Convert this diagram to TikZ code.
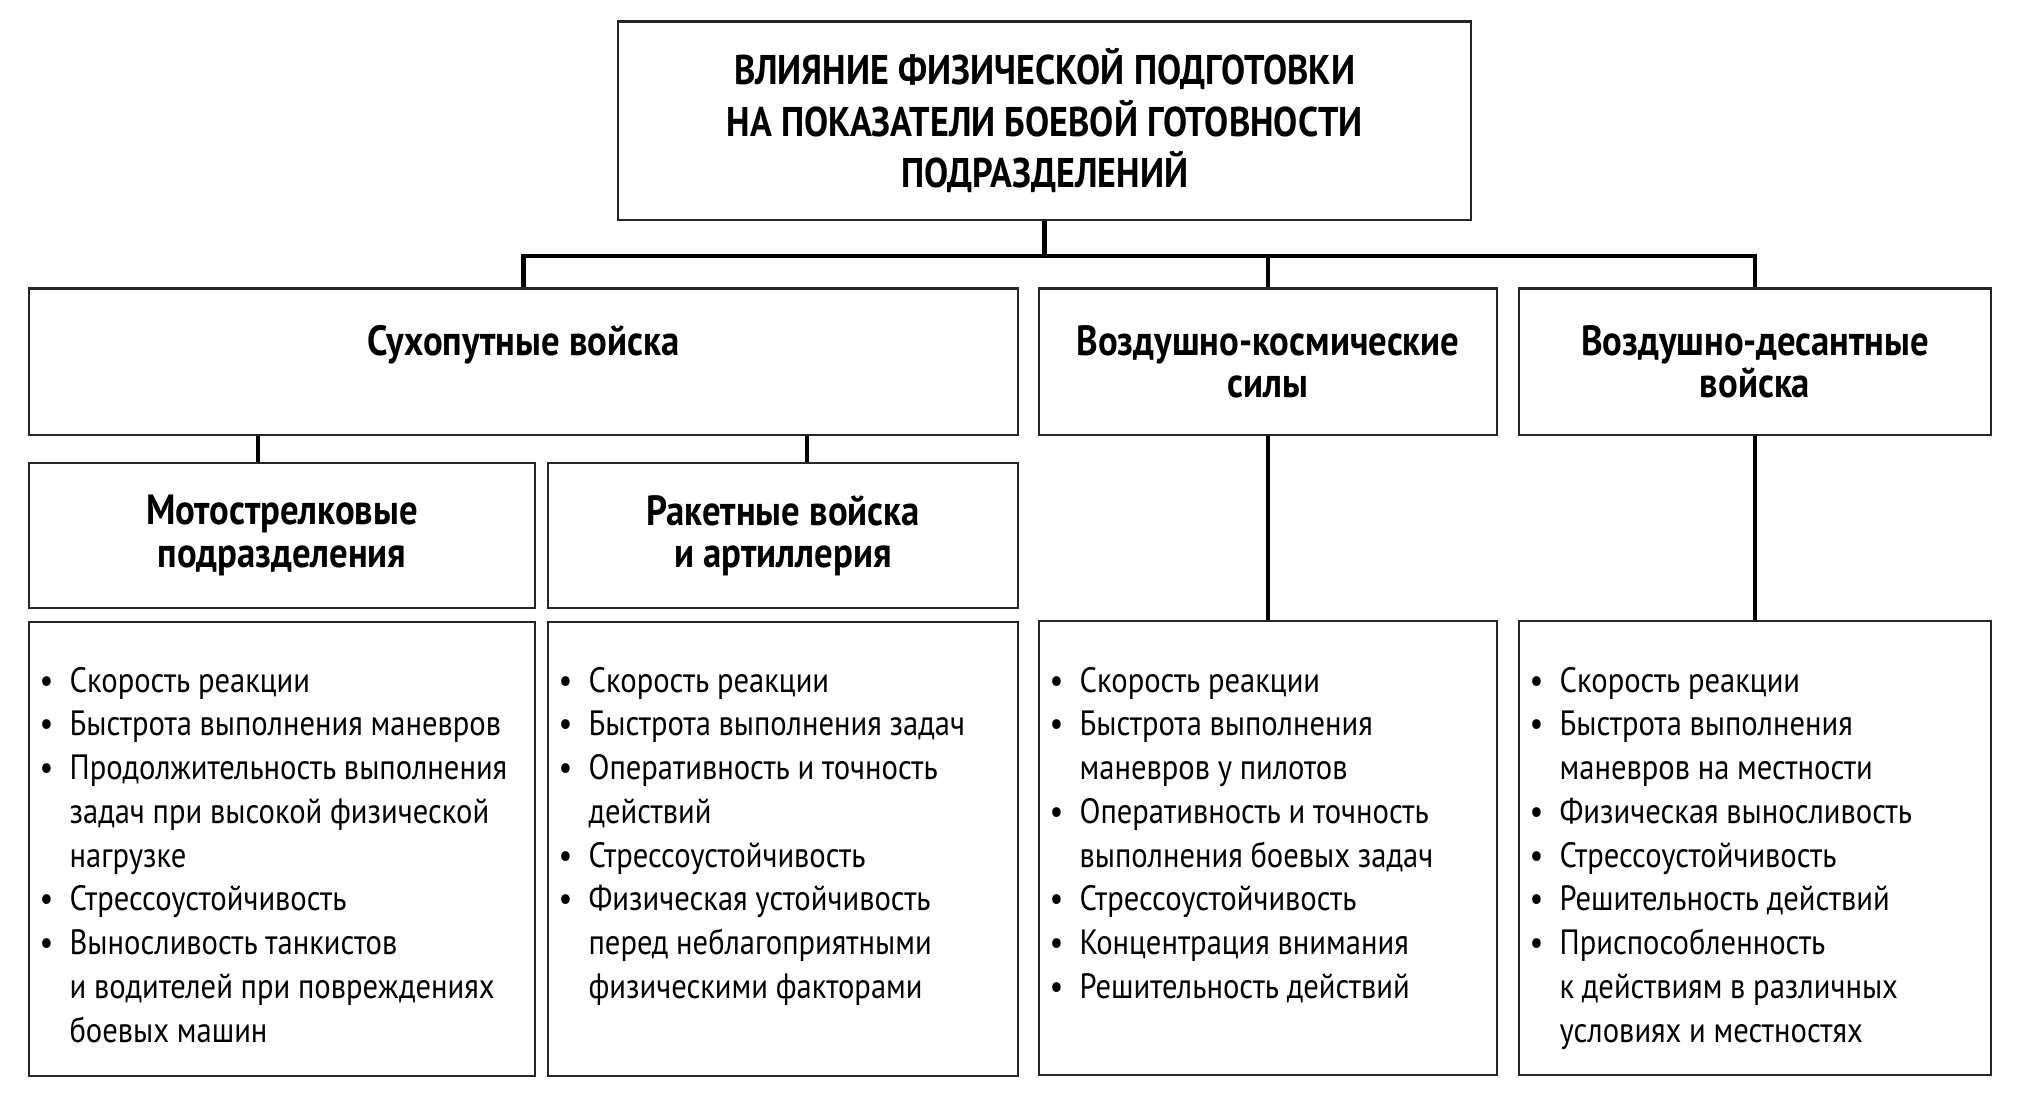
\documentclass[tikz,border=0pt]{standalone}
\usepackage{fontspec}
\setmainfont{PT Sans}[FakeStretch=0.87]
\usetikzlibrary{calc}

\newlength{\bulind}\setlength{\bulind}{8.5pt}
\newcommand{\itm}[1]{\spaceskip=0.22em\hangindent=\bulind\hangafter=1\noindent\makebox[\bulind][l]{\textbullet}#1\par}

\begin{document}
\begin{tikzpicture}[x=0.01cm, y=-0.01cm,
  box/.style={draw=black!85, line width=0.6pt, inner sep=0pt, align=center},
  head/.style={box, font=\bfseries\fontsize{12pt}{12pt}\selectfont},
  list/.style={inner sep=0pt, anchor=base west, text width=5cm, align=left,
    font=\fontsize{10pt}{12.45pt}\selectfont},
  conn/.style={line width=1.25pt, black}]

\useasboundingbox[fill=white] (0,0) rectangle (2020,1096);

% top
\node[box, minimum width=8.52cm, minimum height=1.98cm,
  font=\bfseries\fontsize{11.8pt}{14.6pt}\selectfont] (title) at (1044.6,120.6)
  {ВЛИЯНИЕ ФИЗИЧЕСКОЙ ПОДГОТОВКИ\\НА ПОКАЗАТЕЛИ БОЕВОЙ ГОТОВНОСТИ\\ПОДРАЗДЕЛЕНИЙ};

% troops
\node[head, minimum width=9.89cm, minimum height=1.46cm] (land) at (523.5,361.5) {Сухопутные войска\\\mbox{}};
\node[head, minimum width=4.58cm, minimum height=1.46cm] (space) at (1268,361.5) {Воздушно-космические\\силы};
\node[head, minimum width=4.72cm, minimum height=1.46cm] (airdrop) at (1755,361.5) {Воздушно-десантные\\войска};

\node[head, minimum width=5.06cm, minimum height=1.45cm] (moto) at (282,535.5) {Мотострелковые\\подразделения};
\node[head, minimum width=4.70cm, minimum height=1.45cm] (rocket) at (783,535.5) {Ракетные войска\\и артиллерия};

% lists
\node[box, minimum width=5.06cm, minimum height=4.54cm] (motobox) at (282,849) {};
\node[box, minimum width=4.70cm, minimum height=4.54cm] (rocketbox) at (783,849) {};
\node[box, minimum width=4.58cm, minimum height=4.54cm] (spacebox) at (1268,848) {};
\node[box, minimum width=4.72cm, minimum height=4.54cm] (airbox) at (1755,848) {};

\node[list] (motolist) at (39,692) {%
  \itm{Скорость реакции}
  \itm{Быстрота выполнения маневров}
  \itm{Продолжительность выполнения\newline задач при высокой физической\newline нагрузке}
  \itm{Стрессоустойчивость}
  \itm{Выносливость танкистов\newline и водителей при повреждениях\newline боевых машин}};
\node[list] (rocketlist) at (558,692) {%
  \itm{Скорость реакции}
  \itm{Быстрота выполнения задач}
  \itm{Оперативность и точность\newline действий}
  \itm{Стрессоустойчивость}
  \itm{Физическая устойчивость\newline перед неблагоприятными\newline физическими факторами}};
\node[list] (spacelist) at (1049,692) {%
  \itm{Скорость реакции}
  \itm{Быстрота выполнения\newline маневров у пилотов}
  \itm{Оперативность и точность\newline выполнения боевых задач}
  \itm{Стрессоустойчивость}
  \itm{Концентрация внимания}
  \itm{Решительность действий}};
\node[list] (airlist) at (1529,692) {%
  \itm{Скорость реакции}
  \itm{Быстрота выполнения\newline маневров на местности}
  \itm{Физическая выносливость}
  \itm{Стрессоустойчивость}
  \itm{Решительность действий}
  \itm{Приспособленность\newline к действиям в различных\newline условиях и местностях}};

% connectors
\coordinate (bus) at (0,256);
\coordinate (mstem) at (258,449);
\coordinate (rstem) at (807,449);
\draw[conn] (title.south) -- (title.south |- bus);
\draw[conn] (land.north) -- (land.north |- bus) -| (airdrop.north);
\draw[conn] (space.north) -- (space.north |- bus);
\draw[conn] (land.south -| mstem) -- (moto.north -| mstem);
\draw[conn] (land.south -| rstem) -- (rocket.north -| rstem);
\draw[conn] (space.south) -- (spacebox.north);
\draw[conn] (airdrop.south) -- (airbox.north);

\end{tikzpicture}
\end{document}
